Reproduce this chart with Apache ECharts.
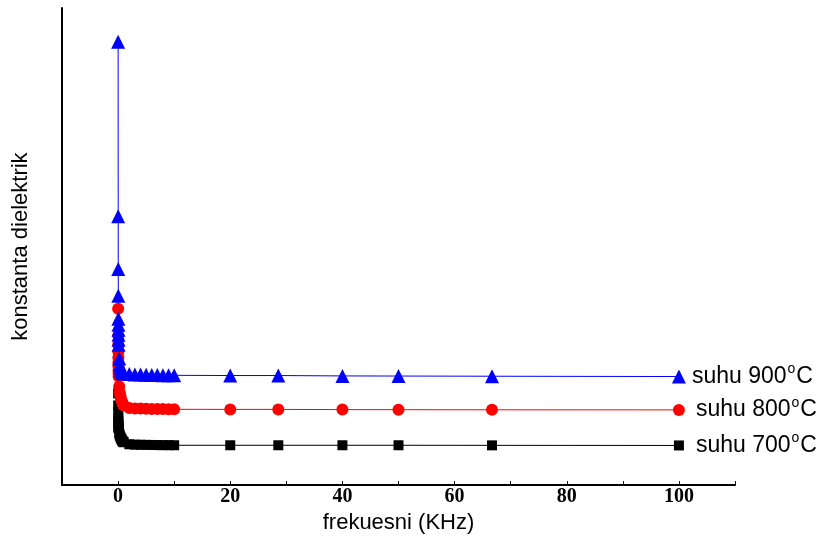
<!DOCTYPE html>
<html>
<head>
<meta charset="utf-8">
<script src="https://cdn.jsdelivr.net/npm/echarts@6/dist/echarts.min.js"></script>
<style>
html,body{margin:0;padding:0;background:#fff;}
#chart{width:823px;height:539px;}
</style>
</head>
<body>
<div id="chart"></div>
<script>
// frequency (kHz)
var freqKHz = [0.01,0.02,0.03,0.04,0.05,0.06,0.07,0.08,0.09,0.1,0.2,0.3,0.4,0.5,0.6,0.7,0.8,0.9,1,2,3,4,5,6,7,8,9,10,20,28.57,40,50,66.67,100];
// dielectric constant (arbitrary units)
var suhu900 = [445,270,217,190,167,161,156,151,146,141,127,121,118,116,114.5,113.5,113,112.5,112,111.5,111,111,110.8,110.6,110.5,110.4,110.3,110.2,110,110,109.6,109.5,109.3,109];
var suhu800 = [177,150,141,134,128,123,119,115,112,109,99,93,90,87,85,83.5,82,81,80,77.5,77,76.8,76.6,76.5,76.4,76.3,76.2,76.1,76,76,75.8,75.7,75.6,75.5];
var suhu700 = [92,80,73,68,64.5,62,60,58.5,57.5,57,52,50,48.5,47,46,45,44,43.5,43,41,40.6,40.5,40.4,40.3,40.2,40.1,40.1,40,40,40,40,40,39.9,39.8];
var seriesNames = ['suhu 700', 'suhu 800', 'suhu 900'];
var xTickLabels = [0,20,40,60,80,100];

function pairs(vals){ return freqKHz.map(function(f,i){ return [f, vals[i]]; }); }

var chart = echarts.init(document.getElementById('chart'), null, {renderer:'canvas'});

function mkSeries(name, vals, color, symbol, size, dist){
  return {
    name: name + '°C',
    type: 'line',
    data: pairs(vals),
    symbol: symbol,
    symbolSize: size,
    showAllSymbol: true,
    animation: false,
    lineStyle: {color: color, width: 1},
    itemStyle: {color: color},
    emphasis: {disabled: true},
    endLabel: {
      show: true,
      distance: dist,
      formatter: function(){ return '{a|' + name + '}{sup|o}{a|C}'; },
      rich: {
        a: {fontFamily: 'Liberation Sans, Arial', fontSize: 23, color: '#000'},
        sup: {fontFamily: 'Liberation Sans, Arial', fontSize: 14, color: '#000', padding: [0,1,14,1]}
      }
    }
  };
}

chart.setOption({
  animation: false,
  grid: {left: 62, right: 88, top: 8, bottom: 52, containLabel: false},
  xAxis: {
    type: 'value', min: -10, max: 110, interval: 10,
    name: 'frekuesni (KHz)', nameLocation: 'middle', nameGap: 25,
    nameTextStyle: {fontFamily: 'Liberation Sans, Arial', fontSize: 22, color: '#000'},
    axisLine: {show: true, onZero: false, lineStyle: {color: '#000', width: 2}},
    axisTick: {show: true, inside: true, length: 4, lineStyle: {color: '#000', width: 1}},
    axisLabel: {
      margin: 2,
      fontFamily: 'Liberation Serif, Times New Roman', fontWeight: 'bold', fontSize: 20, color: '#000',
      formatter: function(v){ return xTickLabels.indexOf(v) >= 0 ? String(v) : ''; }
    },
    splitLine: {show: false}
  },
  yAxis: {
    type: 'value', min: 0, max: 479,
    name: 'konstanta dielektrik', nameLocation: 'middle', nameGap: 30, nameRotate: 90,
    nameTextStyle: {fontFamily: 'Liberation Sans, Arial', fontSize: 22, color: '#000'},
    axisLine: {show: true, onZero: false, lineStyle: {color: '#000', width: 2}},
    axisTick: {show: false},
    axisLabel: {show: false},
    splitLine: {show: false}
  },
  series: [
    mkSeries(seriesNames[0], suhu700, '#000000', 'rect', 10, 17),
    mkSeries(seriesNames[1], suhu800, '#ff0000', 'circle', 12, 17),
    mkSeries(seriesNames[2], suhu900, '#0000ff', 'triangle', 14, 13)
  ]
});
</script>
</body>
</html>
